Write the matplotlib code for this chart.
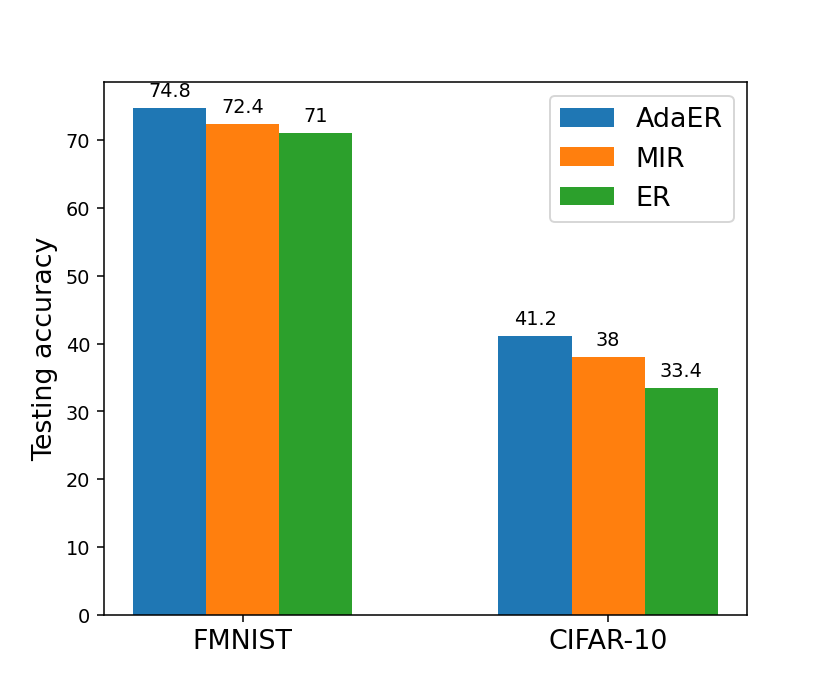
import matplotlib
matplotlib.use("Agg")
import matplotlib.pyplot as plt
import numpy as np

datasets = ["FMNIST", "CIFAR-10"]
methods = ["AdaER", "MIR", "ER"]
adaer = [74.8, 41.2]
mir = [72.4, 38]
er = [71, 33.4]

fig, ax = plt.subplots(figsize=(6, 5), dpi=138.33)
x = np.arange(len(datasets))
w = 0.2
for i, (name, vals) in enumerate(zip(methods, [adaer, mir, er])):
    bars = ax.bar(x + (i - 1) * w, vals, w, label=name)
    ax.bar_label(bars, labels=[f"{v:g}" for v in vals], fontsize=10, padding=4)

ax.set_xticks(x)
ax.set_xticklabels(datasets, fontsize=14)
ax.set_ylabel("Testing accuracy", fontsize=14)
ax.legend(fontsize=14)
fig.savefig("out.png", dpi=138.33)
